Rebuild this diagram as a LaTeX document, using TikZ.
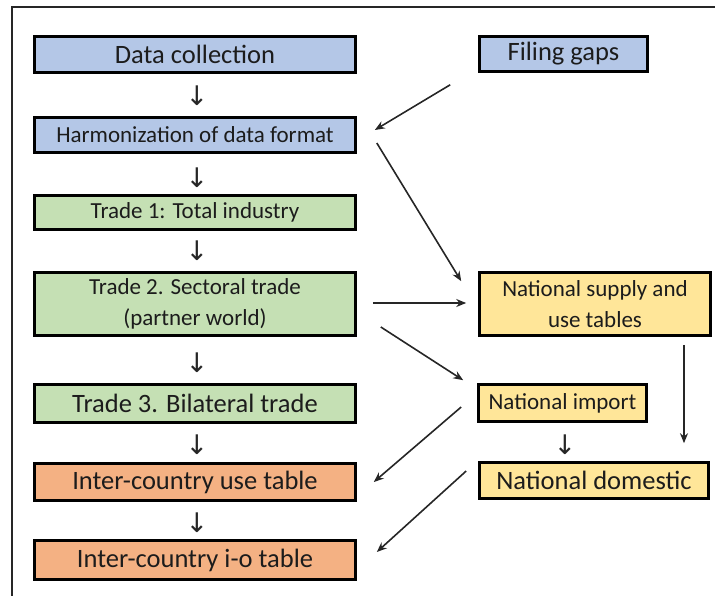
\documentclass[tikz,border=0pt]{standalone}
\usepackage{fontspec}
\setmainfont{Carlito}
\newfontfamily\arrowfont{DejaVu Sans}
\usetikzlibrary{arrows.meta}
\definecolor{cblue}{HTML}{B4C7E7}
\definecolor{cgreen}{HTML}{C5E0B4}
\definecolor{corange}{HTML}{F4B183}
\definecolor{cyellow}{HTML}{FFE699}
\definecolor{ctext}{HTML}{1C1C1C}
\definecolor{cline}{HTML}{262626}
\tikzset{
  box/.style={draw=black, line width=2.6pt, inner sep=0pt, align=center, text=ctext},
  bigtxt/.style={font=\fontsize{26.5}{29}\selectfont},
  smtxt/.style={font=\fontsize{23}{31}\selectfont},
  conn/.style={draw=cline, line width=1.6pt, -{Stealth[length=10pt,width=8pt]}},
  darrow/.style={text=cline, inner sep=0pt, font=\arrowfont\fontsize{27}{27}\selectfont},
  frameline/.style={draw=black!85, line width=1.4pt}
}
\begin{document}
\begin{tikzpicture}[x=1pt,y=-1pt]
\useasboundingbox (0,0) rectangle (715,596);
\draw[frameline] (12,596) -- (12,7) -- (715,7);

% left column
\node[box,bigtxt,fill=cblue,minimum width=321pt,minimum height=36pt] (dc) at (195,54.5) {Data collection};
\node[box,smtxt,fill=cblue,minimum width=321pt,minimum height=35pt] (harm) at (195,135) {Harmonization of data format};
\node[box,smtxt,fill=cgreen,minimum width=321pt,minimum height=34pt] (t1) at (195,212.5) {Trade 1: Total industry};
\node[box,smtxt,fill=cgreen,minimum width=321pt,minimum height=63pt] (t2) at (195,304) {Trade 2. Sectoral trade\\(partner world)};
\node[box,bigtxt,fill=cgreen,minimum width=321pt,minimum height=38pt] (t3) at (195,403.5) {Trade 3. Bilateral trade};
\node[box,bigtxt,fill=corange,minimum width=321pt,minimum height=37pt] (icu) at (195,482) {Inter-country use table};
\node[box,bigtxt,fill=corange,minimum width=321pt,minimum height=39pt] (io) at (195,560) {Inter-country i-o table};

% right column
\node[box,bigtxt,fill=cblue,minimum width=168pt,minimum height=35pt] (fg) at (563.5,54) {Filing gaps};
\node[box,smtxt,fill=cyellow,minimum width=231pt,minimum height=63pt] (nsu) at (595,304) {National supply and\\use tables};
\node[box,smtxt,fill=cyellow,minimum width=168pt,minimum height=37pt] (ni) at (562.5,403) {National import};
\node[box,bigtxt,fill=cyellow,minimum width=229pt,minimum height=36pt] (nd) at (594,480.5) {National domestic};

% small down-arrow glyphs
\node[darrow] (d1) at (197,96) {↓};
\node[darrow] (d2) at (197,178) {↓};
\node[darrow] (d3) at (197,251) {↓};
\node[darrow] (d4) at (197,363) {↓};
\node[darrow] (d5) at (197,445) {↓};
\node[darrow] (d6) at (197,523) {↓};
\node[darrow] (d7) at (565,445) {↓};

% connectors
\draw[conn] ([shift={(-28,12)}]fg.south west) -- ([shift={(18,-5)}]harm.east);
\draw[conn] ([shift={(20,8)}]harm.east) -- ([shift={(-17,10)}]nsu.north west);
\draw[conn] ([shift={(16,-1)}]t2.east) -- ([shift={(-12,-1)}]nsu.west);
\draw[conn] ([shift={(24,23)}]t2.east) -- ([shift={(-14,-3)}]ni.north west);
\draw[conn] ([shift={(89,8)}]nsu.south) -- ([shift={(90,-18)}]nd.north);
\draw[conn] ([shift={(-16,4)}]ni.west) -- ([shift={(17,0)}]icu.east);
\draw[conn] ([shift={(-12,-9.5)}]nd.west) -- ([shift={(20,-8)}]io.east);
\end{tikzpicture}
\end{document}
